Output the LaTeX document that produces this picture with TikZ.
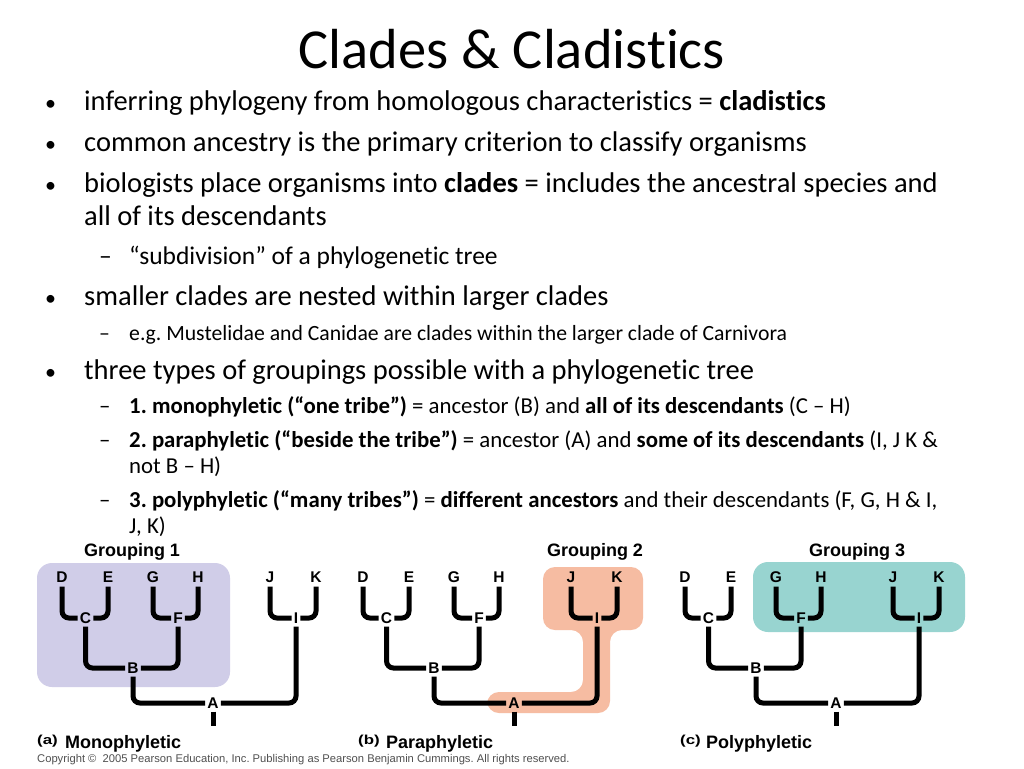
\documentclass[tikz,border=0pt]{standalone}
\usepackage{fontspec}
\setmainfont{Carlito}[Ligatures=NoCommon]
\newfontfamily\arialf{Liberation Sans}
\frenchspacing
\definecolor{lav}{RGB}{208,205,232}
\definecolor{salm}{RGB}{246,188,162}
\definecolor{tealg}{RGB}{152,212,208}
\definecolor{copyg}{RGB}{80,80,80}
\tikzset{
  txtA/.style={anchor=base west,inner sep=0pt,font=\fontsize{28.5}{32}\selectfont},
  dotA/.style={anchor=base west,inner sep=0pt,font=\fontsize{22}{26}\selectfont},
  txtB/.style={anchor=base west,inner sep=0pt,font=\fontsize{25.5}{28}\selectfont},
  txtC/.style={anchor=base west,inner sep=0pt,font=\fontsize{21.7}{24}\selectfont},
  txtD/.style={anchor=base west,inner sep=0pt,font=\fontsize{22.8}{25}\selectfont},
  lf/.style={inner xsep=1pt,inner ysep=4pt,text height=11pt,text depth=0pt,font=\arialf\bfseries\fontsize{15.5}{15.5}\selectfont},
  mid/.style={inner xsep=2pt,inner ysep=3pt,text height=11pt,text depth=0pt,font=\arialf\bfseries\fontsize{15.5}{15.5}\selectfont},
  br/.style={line width=5pt,rounded corners=7pt},
  grp/.style={font=\arialf\bfseries\fontsize{18}{18}\selectfont,inner sep=0pt},
  captxt/.style={anchor=base west,inner sep=0pt,font=\arialf\bfseries\fontsize{18}{18}\selectfont},
  caplet/.style={anchor=base west,inner sep=0pt,font=\arialf\bfseries\fontsize{13}{13}\selectfont},
}
\newcommand{\phylotree}[2]{%
  \begin{scope}[shift={(#1,0)}]
    \node[lf] (#2D) at (0,577) {D};
    \node[lf] (#2E) at (46,577) {E};
    \node[lf] (#2G) at (91,577) {G};
    \node[lf] (#2H) at (136,577) {H};
    \node[lf] (#2J) at (208,577) {J};
    \node[lf] (#2K) at (254,577) {K};
    \node[mid] (#2C) at (23.5,618) {C};
    \node[mid] (#2F) at (116,618) {F};
    \node[mid] (#2I) at (234,618) {I};
    \node[mid] (#2B) at (71,668) {B};
    \node[mid] (#2A) at (151,703) {A};
    \coordinate (#2root) at (151,726);
    \draw[br] (#2D.south) |- (#2C.west);
    \draw[br] (#2E.south) |- (#2C.east);
    \draw[br] (#2G.south) |- (#2F.west);
    \draw[br] (#2H.south) |- (#2F.east);
    \draw[br] (#2J.south) |- (#2I.west);
    \draw[br] (#2K.south) |- (#2I.east);
    \draw[br] (#2C.south) |- (#2B.west);
    \draw[br] (#2F.south) |- (#2B.east);
    \draw[br] (#2B.south) |- (#2A.west);
    \draw[br] (#2I.south) |- (#2A.east);
    \draw[br] (#2A.south) -- (#2root);
  \end{scope}}
\begin{document}
\begin{tikzpicture}[x=1pt,y=-1pt]
\useasboundingbox (0,0) rectangle (1024,768);
\fill[white] (0,0) rectangle (1024,768);
% title
\node[anchor=base,inner sep=0pt,font=\fontsize{56.5}{60}\selectfont] (title) at (512,68) {Clades \& Cladistics};
% bullets
\node[dotA] (d1) at (45,110) {•};
\node[txtA] (l1) at (84,110) {inferring phylogeny from homologous characteristics = \textbf{cladistics}};
\node[dotA] (d2) at (45,151) {•};
\node[txtA] (l2) at (84,151) {common ancestry is the primary criterion to classify organisms};
\node[dotA] (d3) at (45,192) {•};
\node[txtA] (l3) at (84,192) {biologists place organisms into \textbf{clades} = includes the ancestral species and};
\node[txtA] (l3b) at (84,225) {all of its descendants};
\node[txtB] (s1d) at (99,264) {–};
\node[txtB] (s1) at (129,264) {“subdivision” of a phylogenetic tree};
\node[dotA] (d4) at (45,305) {•};
\node[txtA] (l4) at (84,305) {smaller clades are nested within larger clades};
\node[txtC] (s2d) at (99,340) {–};
\node[txtC] (s2) at (129,340) {e.g. Mustelidae and Canidae are clades within the larger clade of Carnivora};
\node[dotA] (d5) at (45,379) {•};
\node[txtA] (l5) at (84,379) {three types of groupings possible with a phylogenetic tree};
\node[txtD] (s3d) at (99,413) {–};
\node[txtD] (s3) at (129,413) {\textbf{1. monophyletic (“one tribe”)} = ancestor (B) and \textbf{all of its descendants} (C – H)};
\node[txtD] (s4d) at (99,447) {–};
\node[txtD] (s4) at (129,447) {\textbf{2. paraphyletic (“beside the tribe”)} = ancestor (A) and \textbf{some of its descendants} (I, J K \&};
\node[txtD] (s4b) at (129,473) {not B – H)};
\node[txtD] (s5d) at (99,507) {–};
\node[txtD] (s5) at (129,507) {\textbf{3. polyphyletic (“many tribes”)} = \textbf{different ancestors} and their descendants (F, G, H \& I,};
\node[txtD] (s5b) at (129,533) {J, K)};
% figure area
\fill[white] (30,537) rectangle (1000,768);
\fill[lav,rounded corners=15pt] (37,563) rectangle (230,687);
\fill[salm,rounded corners=12pt] (543,567) -- (643,567) -- (643,630) -- (610,630) -- (610,713) -- (487,713) -- (487,692) -- (583,692) -- (583,630) -- (543,630) -- cycle;
\fill[tealg,rounded corners=15pt] (753,562) rectangle (965,632);
\node[grp] (g1) at (132,552) {Grouping 1};
\node[grp] (g2) at (595,552) {Grouping 2};
\node[grp] (g3) at (857,552) {Grouping 3};
\phylotree{62}{a}
\phylotree{363}{b}
\phylotree{685}{c}
\node[caplet] (ca) at (37,744) {\scalebox{1.3}[1]{(a)}};
\node[captxt] (cA) at (65,748) {Monophyletic};
\node[caplet] (cb) at (358,744) {\scalebox{1.3}[1]{(b)}};
\node[captxt] (cB) at (386,748) {Paraphyletic};
\node[caplet] (cc) at (680,744) {\scalebox{1.3}[1]{(c)}};
\node[captxt] (cC) at (706,748) {Polyphyletic};
\node[anchor=base west,inner sep=0pt,text=copyg,font=\arialf\fontsize{11.2}{12}\selectfont] (copy) at (37,762) {Copyright ©\ \ 2005 Pearson Education, Inc. Publishing as Pearson Benjamin Cummings. All rights reserved.};
\end{tikzpicture}
\end{document}
